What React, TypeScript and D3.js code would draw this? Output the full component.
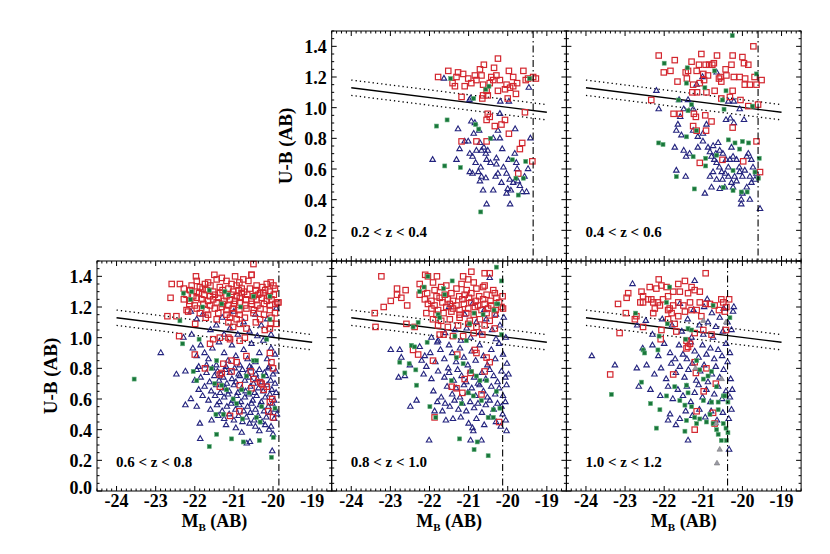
import React from "react"
import * as d3 from "d3"

type Pt = [number, number]

/** axes */
const xDomain = [-24.5, -18.5]
const yDomain = [0, 1.5]
const xTicks = [-24, -23, -22, -21, -20, -19]
const yTicks = [0, 0.2, 0.4, 0.6, 0.8, 1.0, 1.2, 1.4]

/** red-sequence cut: line at M=-24 and M=-19, +/- band */
const fitX = [-24, -19]
const fitY = [1.13, 0.97]
const fitBand = 0.05

const zLabels = ["0.2 < z < 0.4", "0.4 < z < 0.6", "0.6 < z < 0.8", "0.8 < z < 1.0", "1.0 < z < 1.2"]
const magCuts = [-19.35, -19.6, -19.85, -20.13, -20.38]

/** [M_B, U-B] */
const red02: Pt[] = [[-21.78,1.20],[-21.52,1.24],[-21.41,1.16],[-21.31,1.20],[-21.27,1.23],[-21.14,1.22],[-21.35,1.14],[-21.18,1.07],[-21.10,1.14],[-21.01,1.19],[-20.93,1.16],[-20.84,1.21],[-20.80,1.18],[-20.71,1.25],[-20.67,1.21],[-20.61,1.28],[-20.63,1.15],[-20.65,1.06],[-20.54,1.11],[-20.51,1.08],[-20.46,1.16],[-20.42,1.20],[-20.37,1.18],[-20.35,1.26],[-20.29,1.21],[-20.25,1.32],[-20.25,1.11],[-20.20,1.18],[-20.03,1.15],[-19.97,1.24],[-20.00,1.06],[-19.94,1.13],[-19.86,1.20],[-19.79,1.09],[-19.76,1.16],[-19.60,1.24],[-19.54,1.18],[-19.56,0.97],[-19.48,1.19],[-19.35,1.20],[-19.28,1.19],[-20.51,0.96],[-20.46,0.94],[-20.54,0.92],[-20.33,0.88],[-20.07,0.92],[-20.16,0.89],[-19.97,0.83],[-21.18,0.78],[-20.80,0.78],[-20.54,0.78],[-19.63,0.77],[-19.69,0.73],[-19.37,0.65],[-19.73,0.57],[-20.63,1.08],[-20.07,1.12],[-19.86,1.14]]
const blue02: Pt[] = [[-21.92,0.66],[-21.63,1.19],[-21.27,0.86],[-21.31,0.66],[-21.23,0.73],[-21.10,0.78],[-20.95,1.06],[-20.93,0.91],[-20.87,0.83],[-20.97,0.70],[-20.90,0.68],[-20.80,0.72],[-20.82,0.64],[-20.71,0.77],[-20.67,0.72],[-20.61,0.74],[-20.56,0.70],[-20.51,0.72],[-20.69,0.61],[-20.75,0.58],[-20.67,0.55],[-20.56,0.54],[-20.71,0.52],[-20.63,0.46],[-20.90,0.57],[-20.97,0.58],[-20.54,0.37],[-20.37,0.46],[-20.31,0.55],[-20.29,0.63],[-20.25,0.85],[-20.20,0.80],[-20.14,0.73],[-20.11,0.61],[-20.03,0.57],[-19.98,0.66],[-19.95,0.53],[-20.00,0.47],[-20.03,0.44],[-19.94,0.37],[-19.86,0.51],[-19.82,0.70],[-19.78,0.64],[-19.76,0.60],[-19.69,0.49],[-19.63,0.45],[-19.57,0.55],[-19.52,0.45],[-19.48,0.60],[-19.42,0.80],[-19.46,1.13],[-19.81,0.86],[-20.19,1.04],[-19.97,1.04],[-20.20,0.96],[-21.01,0.78],[-20.84,0.90],[-20.98,1.05],[-20.54,0.66],[-20.44,0.64],[-20.25,0.57],[-20.16,0.51],[-19.92,0.46],[-19.74,0.52],[-20.29,0.67],[-20.73,0.85],[-20.37,0.80]]
const green02: Pt[] = [[-21.82,0.88],[-21.55,0.92],[-21.61,0.62],[-21.21,0.61],[-21.46,1.19],[-20.87,1.06],[-20.82,0.89],[-20.74,0.86],[-20.44,0.80],[-20.56,1.12],[-20.48,1.14],[-20.69,0.32],[-19.88,0.66],[-19.79,0.54],[-19.73,0.43],[-19.60,0.54],[-19.54,0.65],[-19.44,1.19]]

const red04: Pt[] = [[-22.14,1.34],[-21.73,1.31],[-22.01,1.23],[-21.84,1.24],[-21.66,1.17],[-21.45,1.23],[-21.30,1.30],[-21.39,1.24],[-21.42,1.19],[-21.17,1.24],[-21.05,1.35],[-21.11,1.28],[-20.94,1.28],[-20.85,1.28],[-20.77,1.28],[-20.73,1.29],[-21.00,1.22],[-20.88,1.21],[-20.98,1.18],[-21.09,1.16],[-21.26,1.15],[-21.28,1.10],[-21.16,1.10],[-20.92,1.10],[-20.71,1.11],[-20.65,1.34],[-20.60,1.19],[-20.54,1.17],[-20.56,1.20],[-20.43,1.25],[-20.41,1.21],[-20.25,1.34],[-20.28,1.28],[-20.22,1.20],[-20.25,1.11],[-20.07,1.20],[-20.00,1.33],[-19.96,1.29],[-19.85,1.28],[-19.93,1.19],[-19.94,1.15],[-19.81,1.15],[-19.72,1.40],[-19.69,1.20],[-19.51,1.18],[-19.64,1.15],[-20.05,1.05],[-20.32,1.07],[-20.54,1.06],[-22.33,1.05],[-21.76,0.96],[-21.60,0.96],[-21.24,0.96],[-21.19,0.94],[-20.95,0.95],[-20.79,0.91],[-21.26,0.88],[-20.93,0.85],[-21.17,0.85],[-20.25,0.87],[-20.51,0.66],[-21.09,0.64],[-19.98,0.65],[-19.55,0.58],[-19.64,0.78],[-19.60,1.02],[-19.85,1.01]]
const blue04: Pt[] = [[-22.20,1.11],[-22.14,0.99],[-21.62,1.05],[-21.39,1.05],[-21.59,0.94],[-21.65,0.89],[-21.69,0.85],[-21.56,0.82],[-21.26,0.99],[-21.17,1.15],[-21.02,1.20],[-20.66,1.23],[-20.36,1.04],[-20.22,1.04],[-20.07,0.99],[-20.42,0.92],[-20.31,0.93],[-20.22,0.90],[-19.96,0.92],[-20.92,0.89],[-21.01,0.83],[-21.14,0.81],[-21.01,0.78],[-20.88,0.74],[-20.75,0.75],[-20.62,0.77],[-21.73,0.74],[-21.50,0.72],[-21.35,0.70],[-21.14,0.74],[-21.44,0.68],[-21.69,0.59],[-21.45,0.55],[-20.96,0.44],[-20.83,0.71],[-20.79,0.68],[-20.68,0.70],[-20.58,0.72],[-20.50,0.70],[-20.66,0.64],[-20.59,0.61],[-20.53,0.58],[-20.44,0.57],[-20.36,0.61],[-20.75,0.58],[-20.83,0.55],[-20.66,0.53],[-20.51,0.53],[-20.45,0.48],[-20.28,0.74],[-20.24,0.68],[-20.15,0.66],[-20.08,0.61],[-20.07,0.58],[-20.20,0.55],[-20.15,0.52],[-20.00,0.55],[-19.94,0.59],[-19.89,0.68],[-19.85,0.70],[-19.77,0.66],[-19.73,0.61],[-19.81,0.55],[-19.77,0.51],[-19.89,0.48],[-20.00,0.44],[-20.03,0.40],[-19.81,0.40],[-20.03,0.37],[-19.55,0.34],[-20.32,0.66],[-20.42,0.66],[-20.72,0.66],[-20.36,0.55],[-20.28,0.51],[-20.24,0.48],[-19.64,0.57],[-19.68,0.53],[-20.58,0.47],[-20.79,0.48],[-21.26,0.85],[-21.50,0.99]]
const green04: Pt[] = [[-22.00,1.29],[-21.41,1.26],[-21.43,1.16],[-20.96,1.13],[-20.71,1.24],[-20.42,1.11],[-20.51,1.05],[-20.47,0.99],[-20.26,1.47],[-19.64,1.22],[-19.74,1.01],[-21.63,1.05],[-21.39,0.98],[-21.30,1.02],[-21.17,0.85],[-21.43,0.81],[-22.14,0.77],[-22.03,0.76],[-21.26,0.68],[-20.94,0.67],[-20.94,0.62],[-20.66,0.69],[-20.36,0.79],[-20.19,0.77],[-20.00,0.78],[-19.84,0.77],[-20.07,0.73],[-21.69,0.55],[-21.23,0.47],[-20.49,0.48],[-20.24,0.46],[-20.03,0.45],[-19.88,0.45],[-20.24,0.59],[-19.68,0.58],[-19.57,0.67],[-19.59,0.54]]

const red06: Pt[] = [[-21.97,1.40],[-21.50,1.41],[-21.31,1.39],[-20.97,1.40],[-20.76,1.38],[-20.55,1.41],[-21.95,1.37],[-21.66,1.36],[-21.44,1.38],[-21.19,1.37],[-20.86,1.36],[-20.63,1.37],[-20.06,1.36],[-22.08,1.34],[-21.87,1.33],[-21.74,1.35],[-21.60,1.34],[-21.36,1.33],[-21.06,1.35],[-20.93,1.34],[-20.80,1.32],[-20.42,1.34],[-20.27,1.33],[-20.16,1.35],[-19.99,1.34],[-22.12,1.31],[-21.95,1.30],[-21.80,1.32],[-21.70,1.31],[-21.53,1.30],[-21.29,1.31],[-21.14,1.32],[-21.02,1.30],[-20.88,1.31],[-20.74,1.30],[-20.59,1.32],[-20.44,1.31],[-20.33,1.29],[-20.20,1.31],[-20.08,1.30],[-19.95,1.32],[-22.21,1.28],[-22.04,1.27],[-21.89,1.29],[-21.76,1.28],[-21.61,1.27],[-21.49,1.28],[-21.36,1.29],[-21.19,1.27],[-21.06,1.28],[-20.93,1.27],[-20.80,1.29],[-20.66,1.28],[-20.50,1.27],[-20.38,1.28],[-20.25,1.29],[-20.10,1.27],[-19.98,1.28],[-22.28,1.25],[-22.12,1.24],[-21.95,1.26],[-21.83,1.25],[-21.66,1.24],[-21.53,1.25],[-21.40,1.26],[-21.25,1.24],[-21.10,1.25],[-20.97,1.24],[-20.85,1.26],[-20.69,1.25],[-20.55,1.24],[-20.42,1.25],[-20.29,1.26],[-20.16,1.24],[-20.04,1.25],[-19.89,1.23],[-22.14,1.22],[-22.00,1.21],[-21.78,1.22],[-21.61,1.21],[-21.44,1.23],[-21.29,1.22],[-21.14,1.21],[-21.00,1.22],[-20.85,1.23],[-20.71,1.21],[-20.55,1.22],[-20.40,1.21],[-20.23,1.22],[-20.08,1.21],[-19.94,1.22],[-21.95,1.19],[-21.70,1.18],[-21.49,1.19],[-21.31,1.20],[-21.19,1.18],[-21.03,1.19],[-20.86,1.18],[-20.68,1.19],[-20.49,1.18],[-20.32,1.19],[-20.08,1.18],[-21.87,1.16],[-21.66,1.15],[-21.40,1.16],[-21.19,1.15],[-21.02,1.16],[-20.85,1.15],[-20.50,1.16],[-20.23,1.15],[-19.95,1.16],[-21.72,1.13],[-21.44,1.12],[-21.10,1.13],[-20.93,1.12],[-20.72,1.13],[-20.33,1.12],[-20.04,1.13],[-21.14,1.10],[-20.85,1.09],[-20.44,1.10],[-20.06,1.09],[-21.02,1.07],[-20.68,1.06],[-22.59,1.35],[-22.62,1.26],[-22.38,1.35],[-22.28,1.32],[-22.21,1.18],[-22.17,1.17],[-22.70,1.14],[-22.47,1.14],[-22.40,1.01],[-21.99,1.09],[-22.00,0.89],[-21.74,0.80],[-21.61,0.96],[-21.53,0.99],[-21.36,1.00],[-21.14,1.00],[-21.10,0.99],[-20.85,0.98],[-20.72,1.00],[-20.68,0.88],[-21.06,0.85],[-20.93,0.84],[-21.27,0.83],[-21.31,0.77],[-21.36,0.76],[-21.36,0.68],[-21.06,0.78],[-20.85,0.69],[-21.10,0.49],[-20.86,0.52],[-20.57,0.78],[-20.50,0.73],[-20.55,0.67],[-20.33,0.71],[-20.29,0.70],[-20.16,0.68],[-20.24,0.66],[-20.08,0.90],[-20.04,0.84],[-20.00,0.80],[-20.02,0.60],[-20.08,0.58],[-20.00,0.48],[-20.12,0.52],[-20.55,1.41],[-20.50,1.48],[-20.08,1.06],[-20.21,1.05],[-19.91,1.09],[-19.86,1.23]]
const blue06: Pt[] = [[-22.10,1.17],[-21.95,1.12],[-21.80,1.15],[-21.60,1.05],[-21.45,1.08],[-21.30,1.13],[-21.10,1.06],[-20.90,1.02],[-20.75,1.10],[-20.60,1.04],[-20.45,1.15],[-20.30,1.08],[-20.15,1.12],[-19.92,1.19],[-20.05,1.02],[-21.00,1.17],[-22.29,1.00],[-22.08,1.02],[-21.25,1.02],[-20.40,1.01],[-22.87,0.90],[-22.05,0.93],[-21.95,0.88],[-21.85,0.95],[-21.75,0.90],[-21.65,0.86],[-21.55,0.93],[-21.45,0.82],[-21.38,0.97],[-21.25,0.90],[-21.15,0.85],[-21.05,0.95],[-20.95,0.88],[-20.85,0.82],[-20.75,0.92],[-20.65,0.86],[-20.55,0.96],[-20.45,0.84],[-20.35,0.90],[-20.25,0.98],[-20.15,0.86],[-20.05,0.93],[-19.95,0.89],[-21.70,0.82],[-21.20,0.81],[-20.60,0.81],[-20.10,0.81],[-21.90,0.81],[-22.47,0.76],[-22.24,0.78],[-21.95,0.79],[-21.70,0.77],[-21.55,0.80],[-21.42,0.78],[-21.33,0.76],[-21.22,0.79],[-21.10,0.77],[-20.98,0.80],[-20.88,0.76],[-20.78,0.79],[-20.66,0.77],[-20.55,0.80],[-20.44,0.76],[-20.35,0.79],[-20.22,0.77],[-20.12,0.80],[-20.00,0.76],[-19.93,0.78],[-22.00,0.72],[-21.85,0.74],[-21.62,0.71],[-21.50,0.75],[-21.38,0.72],[-21.27,0.74],[-21.18,0.70],[-21.05,0.73],[-20.95,0.71],[-20.85,0.75],[-20.72,0.72],[-20.60,0.74],[-20.50,0.70],[-20.40,0.73],[-20.28,0.71],[-20.18,0.75],[-20.06,0.72],[-19.95,0.70],[-21.90,0.66],[-21.75,0.68],[-21.58,0.65],[-21.45,0.69],[-21.35,0.64],[-21.22,0.67],[-21.12,0.65],[-21.00,0.69],[-20.90,0.64],[-20.80,0.67],[-20.70,0.65],[-20.58,0.68],[-20.47,0.64],[-20.37,0.67],[-20.25,0.65],[-20.15,0.69],[-20.03,0.66],[-19.92,0.64],[-22.10,0.60],[-21.80,0.62],[-21.65,0.59],[-21.48,0.62],[-21.37,0.58],[-21.25,0.61],[-21.15,0.63],[-21.03,0.59],[-20.93,0.62],[-20.82,0.58],[-20.72,0.61],[-20.62,0.63],[-20.52,0.59],[-20.42,0.62],[-20.30,0.58],[-20.20,0.61],[-20.08,0.63],[-19.97,0.59],[-22.24,0.56],[-21.95,0.55],[-21.60,0.53],[-21.43,0.56],[-21.30,0.52],[-21.18,0.55],[-21.07,0.57],[-20.96,0.53],[-20.86,0.56],[-20.75,0.52],[-20.65,0.55],[-20.55,0.57],[-20.45,0.53],[-20.33,0.56],[-20.23,0.52],[-20.12,0.55],[-20.02,0.57],[-19.94,0.53],[-21.57,0.46],[-21.40,0.49],[-21.25,0.47],[-21.12,0.50],[-21.00,0.46],[-20.88,0.49],[-20.78,0.45],[-20.68,0.48],[-20.58,0.51],[-20.48,0.46],[-20.38,0.49],[-20.28,0.45],[-20.17,0.48],[-20.07,0.51],[-19.97,0.47],[-19.90,0.50],[-21.87,0.44],[-21.86,0.34],[-21.20,0.43],[-20.95,0.41],[-20.80,0.38],[-20.67,0.31],[-20.59,0.32],[-20.45,0.42],[-20.35,0.39],[-20.20,0.43],[-20.10,0.40],[-20.00,0.37],[-20.05,0.42],[-20.60,0.44],[-20.02,0.26]]
const green06: Pt[] = [[-23.55,0.73],[-22.29,1.29],[-22.08,1.30],[-22.11,1.25],[-22.38,1.11],[-22.31,0.96],[-21.89,0.99],[-22.04,0.78],[-21.95,0.72],[-21.80,1.20],[-21.63,1.31],[-21.31,1.22],[-21.23,1.30],[-21.14,1.28],[-20.83,1.20],[-20.50,1.27],[-20.08,1.12],[-20.16,0.99],[-20.08,1.27],[-21.57,0.80],[-21.49,0.70],[-21.31,0.69],[-21.44,0.85],[-21.19,0.66],[-20.93,0.57],[-21.02,0.60],[-20.68,0.75],[-20.50,0.85],[-20.42,0.85],[-20.80,0.66],[-20.61,0.64],[-20.42,0.48],[-20.33,0.45],[-20.29,0.55],[-20.25,0.75],[-19.99,0.35],[-19.95,0.54],[-21.46,0.50],[-21.27,0.50],[-20.78,0.47],[-21.44,0.37],[-21.63,0.29],[-21.06,0.34],[-20.76,0.32],[-20.35,0.33],[-20.04,0.22]]

const red08: Pt[] = [[-22.25,1.35],[-21.91,1.36],[-21.57,1.34],[-21.18,1.35],[-20.87,1.36],[-20.59,1.34],[-22.16,1.32],[-21.87,1.31],[-21.70,1.33],[-21.31,1.32],[-21.05,1.31],[-20.80,1.32],[-20.63,1.33],[-20.37,1.31],[-22.25,1.28],[-22.06,1.29],[-21.82,1.27],[-21.61,1.28],[-21.44,1.29],[-21.24,1.27],[-21.10,1.28],[-20.93,1.29],[-20.73,1.27],[-20.54,1.28],[-20.33,1.29],[-20.13,1.27],[-22.12,1.25],[-21.95,1.24],[-21.74,1.26],[-21.53,1.25],[-21.40,1.24],[-21.16,1.25],[-20.99,1.26],[-20.82,1.24],[-20.63,1.25],[-20.44,1.24],[-20.29,1.26],[-22.04,1.22],[-21.87,1.21],[-21.67,1.23],[-21.48,1.22],[-21.31,1.21],[-21.12,1.22],[-20.93,1.23],[-20.76,1.21],[-20.59,1.22],[-20.42,1.21],[-20.22,1.23],[-21.95,1.19],[-21.78,1.18],[-21.57,1.20],[-21.40,1.19],[-21.23,1.18],[-21.01,1.19],[-20.84,1.20],[-20.67,1.18],[-20.50,1.19],[-20.31,1.18],[-20.12,1.19],[-22.08,1.16],[-21.82,1.15],[-21.64,1.16],[-21.44,1.17],[-21.23,1.15],[-21.06,1.16],[-20.87,1.15],[-20.54,1.16],[-20.33,1.15],[-21.91,1.12],[-21.70,1.11],[-21.48,1.12],[-21.23,1.13],[-20.97,1.11],[-20.71,1.12],[-20.46,1.11],[-21.78,1.08],[-21.53,1.07],[-21.27,1.08],[-21.01,1.09],[-20.80,1.07],[-20.59,1.08],[-21.74,1.02],[-21.64,1.02],[-21.40,1.01],[-21.14,1.01],[-20.87,1.03],[-20.65,1.02],[-23.40,1.16],[-23.38,1.07],[-23.17,1.20],[-22.99,1.24],[-22.83,1.32],[-22.83,1.28],[-22.72,1.26],[-22.61,1.31],[-22.57,1.21],[-22.59,1.09],[-22.38,1.07],[-22.29,0.89],[-22.42,0.92],[-23.23,1.40],[-22.11,1.41],[-22.04,1.40],[-21.81,1.40],[-21.87,0.48],[-21.91,0.85],[-21.29,0.89],[-21.43,0.68],[-21.31,0.67],[-21.16,0.64],[-21.10,0.73],[-20.95,0.77],[-20.84,0.92],[-20.80,0.90],[-20.54,0.87],[-20.46,0.84],[-20.67,0.63],[-20.59,0.78],[-20.22,0.45],[-20.33,1.06],[-20.16,1.20],[-20.93,1.43],[-21.01,1.38],[-21.14,1.40],[-20.59,1.42],[-20.46,1.42]]
const blue08: Pt[] = [[-22.50,0.82],[-22.25,0.94],[-22.12,0.88],[-22.08,0.81],[-21.95,1.00],[-21.80,0.97],[-21.60,1.03],[-21.50,0.95],[-21.35,1.05],[-21.20,0.98],[-21.05,1.06],[-20.95,1.00],[-20.80,1.10],[-20.70,1.03],[-20.55,1.12],[-20.40,1.05],[-20.30,1.15],[-20.20,1.08],[-20.10,1.13],[-20.05,1.00],[-21.10,1.15],[-20.60,1.18],[-20.46,1.39],[-20.90,1.22],[-21.50,1.20],[-22.99,0.92],[-22.76,0.92],[-22.72,0.87],[-22.79,0.74],[-22.63,0.75],[-22.49,0.55],[-22.33,0.59],[-22.01,0.33],[-21.87,0.52],[-21.67,0.52],[-21.40,0.47],[-20.88,0.39],[-20.95,0.33],[-20.67,0.33],[-20.03,0.39],[-20.13,0.50],[-22.20,0.85],[-21.98,0.90],[-21.85,0.84],[-21.72,0.92],[-21.62,0.86],[-21.52,0.80],[-21.42,0.90],[-21.32,0.84],[-21.22,0.93],[-21.12,0.87],[-21.02,0.82],[-20.92,0.91],[-20.82,0.85],[-20.72,0.95],[-20.62,0.88],[-20.52,0.82],[-20.42,0.92],[-20.32,0.86],[-20.22,0.96],[-20.12,0.89],[-20.02,0.83],[-21.78,0.98],[-20.30,0.99],[-22.15,0.76],[-21.95,0.73],[-21.78,0.78],[-21.62,0.74],[-21.50,0.77],[-21.38,0.72],[-21.28,0.79],[-21.18,0.75],[-21.06,0.71],[-20.96,0.78],[-20.86,0.74],[-20.76,0.70],[-20.66,0.77],[-20.56,0.73],[-20.46,0.79],[-20.36,0.75],[-20.26,0.71],[-20.16,0.78],[-20.06,0.74],[-19.98,0.76],[-21.90,0.65],[-21.55,0.68],[-21.42,0.63],[-21.32,0.67],[-21.22,0.61],[-21.12,0.69],[-21.02,0.64],[-20.92,0.67],[-20.82,0.62],[-20.72,0.69],[-20.62,0.65],[-20.52,0.61],[-20.42,0.68],[-20.32,0.63],[-20.22,0.67],[-20.12,0.62],[-20.03,0.69],[-21.70,0.61],[-21.60,0.57],[-21.48,0.55],[-21.36,0.59],[-21.26,0.53],[-21.16,0.57],[-21.06,0.52],[-20.96,0.58],[-20.86,0.54],[-20.76,0.57],[-20.66,0.51],[-20.56,0.56],[-20.46,0.59],[-20.36,0.53],[-20.26,0.57],[-20.16,0.55],[-20.06,0.58],[-21.80,0.58],[-21.58,0.46],[-21.20,0.48],[-21.00,0.44],[-20.80,0.47],[-20.60,0.43],[-20.45,0.48],[-20.30,0.45],[-20.18,0.42],[-20.05,0.46],[-20.90,0.41]]
const green08: Pt[] = [[-20.29,1.46],[-20.16,1.37],[-22.04,1.40],[-22.14,1.33],[-22.25,1.30],[-21.64,1.32],[-21.61,1.28],[-21.42,1.37],[-21.78,1.15],[-21.74,1.13],[-22.29,1.10],[-22.42,1.07],[-22.46,0.95],[-22.38,0.94],[-22.06,0.97],[-21.35,1.01],[-21.06,0.98],[-20.97,1.09],[-20.86,1.16],[-20.63,1.15],[-20.29,1.22],[-20.35,1.18],[-20.16,1.02],[-22.52,0.83],[-22.35,0.79],[-22.63,0.77],[-22.76,0.84],[-22.33,0.69],[-21.99,0.55],[-21.84,0.48],[-21.23,0.34],[-20.86,0.27],[-20.78,0.32],[-20.50,0.23],[-21.31,0.87],[-21.14,0.83],[-20.93,0.78],[-20.80,0.75],[-20.71,0.72],[-20.54,0.72],[-21.01,0.64],[-20.88,0.62],[-20.67,0.59],[-20.50,0.48],[-20.37,0.48],[-20.29,0.65],[-20.20,0.54],[-21.18,0.57],[-20.37,0.53],[-20.25,1.22],[-21.44,0.72]]

const red10: Pt[] = [[-20.94,1.42],[-22.14,1.38],[-22.92,1.29],[-22.96,1.26],[-23.18,1.22],[-22.58,1.30],[-22.61,1.23],[-22.54,1.27],[-22.37,1.33],[-22.33,1.25],[-22.20,1.32],[-22.07,1.34],[-21.94,1.33],[-21.64,1.35],[-21.47,1.37],[-21.30,1.33],[-21.22,1.31],[-21.09,1.30],[-21.39,1.29],[-21.60,1.30],[-21.77,1.30],[-21.90,1.27],[-22.03,1.25],[-22.16,1.23],[-22.28,1.23],[-22.41,1.25],[-22.54,1.23],[-22.11,1.21],[-21.77,1.21],[-21.86,1.19],[-21.64,1.23],[-21.51,1.21],[-21.34,1.23],[-21.09,1.23],[-20.94,1.22],[-20.83,1.22],[-20.71,1.21],[-20.60,1.18],[-20.54,1.25],[-20.49,1.23],[-20.41,1.20],[-20.34,1.25],[-20.45,1.17],[-21.17,1.18],[-21.30,1.18],[-21.47,1.17],[-21.64,1.14],[-21.81,1.16],[-21.90,1.18],[-22.28,1.16],[-22.24,1.19],[-22.98,1.16],[-22.71,1.14],[-22.75,1.12],[-22.54,1.07],[-22.07,1.05],[-22.09,0.99],[-21.90,1.12],[-21.73,1.09],[-21.69,1.04],[-23.14,1.03],[-23.38,0.76],[-21.43,0.93],[-21.39,0.94],[-21.34,0.96],[-21.43,0.98],[-21.22,1.03],[-21.00,1.05],[-20.79,1.02],[-20.42,1.05],[-21.22,0.84],[-21.77,0.76],[-21.19,0.77],[-20.92,0.80],[-20.99,0.65],[-20.68,0.70],[-21.17,0.52],[-20.75,0.51],[-21.22,0.40],[-20.71,0.44],[-21.05,1.14]]
const blue10: Pt[] = [[-23.85,0.88],[-23.26,0.82],[-22.81,1.35],[-22.65,0.68],[-22.47,1.11],[-22.69,1.08],[-21.22,1.37],[-21.39,0.33],[-21.90,0.46],[-20.34,0.27],[-20.24,1.17],[-21.40,1.12],[-21.25,1.18],[-21.10,1.08],[-20.98,1.20],[-20.88,1.10],[-20.78,1.16],[-20.68,1.07],[-20.58,1.13],[-20.48,1.19],[-20.38,1.10],[-20.28,1.05],[-20.22,1.20],[-21.55,1.04],[-21.00,1.02],[-20.75,1.00],[-20.50,1.04],[-21.30,1.00],[-22.05,1.12],[-21.80,1.08],[-22.30,1.02],[-20.90,1.25],[-21.60,1.22],[-22.55,0.93],[-22.30,0.95],[-22.15,0.88],[-22.00,0.96],[-21.85,0.90],[-21.72,0.86],[-21.62,0.95],[-21.52,0.89],[-21.42,0.86],[-21.32,0.97],[-21.22,0.91],[-21.12,0.87],[-21.02,0.95],[-20.92,0.89],[-20.82,0.93],[-20.72,0.86],[-20.62,0.92],[-20.52,0.88],[-20.42,0.96],[-20.32,0.90],[-22.70,0.80],[-22.45,0.82],[-22.25,0.76],[-22.08,0.80],[-21.95,0.73],[-21.82,0.83],[-21.70,0.77],[-21.60,0.81],[-21.48,0.74],[-21.38,0.79],[-21.28,0.83],[-21.18,0.72],[-21.08,0.78],[-20.98,0.82],[-20.88,0.71],[-20.78,0.76],[-20.68,0.81],[-20.58,0.74],[-20.48,0.79],[-20.38,0.84],[-20.30,0.73],[-22.35,0.66],[-22.10,0.62],[-21.90,0.68],[-21.78,0.60],[-21.65,0.66],[-21.52,0.62],[-21.42,0.68],[-21.32,0.58],[-21.22,0.64],[-21.12,0.69],[-21.02,0.61],[-20.92,0.66],[-20.82,0.58],[-20.72,0.63],[-20.62,0.68],[-20.52,0.60],[-20.42,0.65],[-20.32,0.61],[-20.26,0.66],[-21.85,0.50],[-21.60,0.47],[-21.45,0.52],[-21.28,0.49],[-21.10,0.53],[-20.95,0.48],[-20.80,0.52],[-20.65,0.46],[-20.50,0.51],[-20.35,0.47],[-20.28,0.53],[-21.70,0.43]]
const green10: Pt[] = [[-23.35,0.63],[-22.20,0.41],[-22.11,0.53],[-22.35,0.57],[-22.58,0.71],[-22.73,1.16],[-22.54,0.92],[-22.50,0.90],[-22.16,0.92],[-22.13,1.01],[-21.92,1.09],[-21.94,1.23],[-21.86,1.33],[-21.39,1.06],[-21.45,0.99],[-21.30,1.05],[-20.75,1.21],[-20.32,1.13],[-21.94,0.62],[-21.73,0.68],[-21.43,0.69],[-21.39,0.64],[-21.17,0.85],[-21.09,0.79],[-21.00,0.73],[-20.88,0.75],[-20.79,0.78],[-20.66,0.68],[-20.49,0.62],[-21.47,0.56],[-21.30,0.55],[-21.22,0.48],[-21.43,0.46],[-21.47,0.39],[-21.17,0.44],[-21.09,0.47],[-20.92,0.45],[-20.83,0.50],[-20.75,0.44],[-20.66,0.40],[-20.62,0.37],[-20.49,0.44],[-20.42,0.41],[-20.54,0.33],[-20.41,0.33],[-20.37,0.38],[-21.00,0.59],[-20.79,0.58],[-20.62,0.53],[-20.45,0.62],[-20.37,0.58],[-20.62,0.58],[-21.60,0.59]]
const grey10: Pt[] = [[-20.58,0.27],[-20.65,0.18],[-20.42,1.10],[-21.00,1.11],[-20.53,0.73],[-20.67,0.44],[-21.20,0.80]]

const colX = [97, 331.7, 566.4]
const rowY = [31, 261]
const panelW = 234.7
const panelH = 230

const panels = [
	{ label: zLabels[0], cut: magCuts[0], red: red02, blue: blue02, green: green02, grey: [] as Pt[], col: 1, row: 0 },
	{ label: zLabels[1], cut: magCuts[1], red: red04, blue: blue04, green: green04, grey: [] as Pt[], col: 2, row: 0 },
	{ label: zLabels[2], cut: magCuts[2], red: red06, blue: blue06, green: green06, grey: [] as Pt[], col: 0, row: 1 },
	{ label: zLabels[3], cut: magCuts[3], red: red08, blue: blue08, green: green08, grey: [] as Pt[], col: 1, row: 1 },
	{ label: zLabels[4], cut: magCuts[4], red: red10, blue: blue10, green: green10, grey: grey10, col: 2, row: 1 },
]

const font = "'Liberation Serif', 'Times New Roman', serif"
const redColor = "#d3262e"
const blueColor = "#23237e"
const greenColor = "#19763a"

const Panel = ({ p }) => {
	const left = colX[p.col]
	const top = rowY[p.row]
	const right = left + panelW
	const bottom = top + panelH
	const x = d3.scaleLinear().domain(xDomain).range([left, right])
	const y = d3.scaleLinear().domain(yDomain).range([bottom, top])

	const xMinor = d3.range(xDomain[0], xDomain[1] + 1e-9, 0.125)
	const yMinor = d3.range(yDomain[0], yDomain[1] + 1e-9, 0.05)

	const tri = d3.symbol().type(d3.symbolTriangle).size(13)()
	const fit = d3.line<number>().x((_, i) => x(fitX[i])).y(v => y(v))

	const showY = (p.row === 0 && p.col === 1) || (p.row === 1 && p.col === 0)
	const showX = p.row === 1

	return (
		<g>
			{/* fit line and band */}
			<path d={fit(fitY)} fill="none" stroke="#000" strokeWidth={1.3} />
			<path d={fit(fitY.map(v => v + fitBand))} fill="none" stroke="#000" strokeWidth={1.3} strokeDasharray="1.3,3" />
			<path d={fit(fitY.map(v => v - fitBand))} fill="none" stroke="#000" strokeWidth={1.3} strokeDasharray="1.3,3" />

			{p.blue.map((d, i) => (
				<path key={"b" + i} d={tri} transform={`translate(${x(d[0])},${y(d[1])})`} fill="none" stroke={blueColor} strokeWidth={1.1} />
			))}
			{p.red.map((d, i) => (
				<rect key={"r" + i} x={x(d[0]) - 2.7} y={y(d[1]) - 2.7} width={5.4} height={5.4} fill="none" stroke={redColor} strokeWidth={1.2} />
			))}
			{p.green.map((d, i) => (
				<rect key={"g" + i} x={x(d[0]) - 2} y={y(d[1]) - 2} width={4} height={4} fill={greenColor} stroke="#5fae7a" strokeWidth={0.6} />
			))}
			{p.grey.map((d, i) => (
				<path key={"k" + i} d={tri} transform={`translate(${x(d[0])},${y(d[1])})`} fill="#9a9aa6" stroke="#777" strokeWidth={0.6} />
			))}

			{/* magnitude limit */}
			<line x1={x(p.cut)} x2={x(p.cut)} y1={top} y2={bottom} stroke="#000" strokeWidth={1.1} strokeDasharray="7,3,1.5,3" />

			{/* frame and inward ticks */}
			<rect x={left} y={top} width={panelW} height={panelH} fill="none" stroke="#000" strokeWidth={1} />
			{xMinor.map((v, i) => {
				const major = xTicks.some(t => Math.abs(t - v) < 1e-6)
				const len = major ? 5 : 2.5
				return (
					<g key={"xt" + i}>
						<line x1={x(v)} x2={x(v)} y1={bottom} y2={bottom - len} stroke="#000" />
						<line x1={x(v)} x2={x(v)} y1={top} y2={top + len} stroke="#000" />
					</g>
				)
			})}
			{yMinor.map((v, i) => {
				const major = yTicks.some(t => Math.abs(t - v) < 1e-6)
				const len = major ? 5 : 2.5
				return (
					<g key={"yt" + i}>
						<line x1={left} x2={left + len} y1={y(v)} y2={y(v)} stroke="#000" />
						<line x1={right} x2={right - len} y1={y(v)} y2={y(v)} stroke="#000" />
					</g>
				)
			})}

			<text x={left + 19} y={top + 206} fontFamily={font} fontWeight="bold" fontSize={15}>{p.label}</text>

			{showY && yTicks.filter(t => p.row === 1 || t > 0).map(t => (
				<text key={"yl" + t} x={left - 5} y={y(t) + (t === 0 ? -3.5 : 1)} textAnchor="end" dominantBaseline="central"
					fontFamily={font} fontWeight="bold" fontSize={18}>{t.toFixed(1)}</text>
			))}
			{showY && (
				<text transform={`translate(${left - 40},${(top + bottom) / 2}) rotate(-90)`} textAnchor="middle"
					fontFamily={font} fontWeight="bold" fontSize={19}>U-B (AB)</text>
			)}
			{showX && xTicks.map(t => (
				<text key={"xl" + t} x={x(t)} y={bottom + 16} textAnchor="middle" fontFamily={font} fontWeight="bold" fontSize={18}>{t}</text>
			))}
			{showX && (
				<text x={(left + right) / 2} y={bottom + 36} textAnchor="middle" fontFamily={font} fontWeight="bold" fontSize={18}>
					M<tspan fontSize={11} dy={4}>B</tspan><tspan dy={-4}> (AB)</tspan>
				</text>
			)}
		</g>
	)
}

export default function App() {
	return (
		<svg width={830} height={554} style={{ position: "absolute", left: 0, top: 0, background: "#fff" }}>
			<rect width={830} height={554} fill="#fff" />
			{panels.map((p, i) => <Panel key={i} p={p} />)}
		</svg>
	)
}
